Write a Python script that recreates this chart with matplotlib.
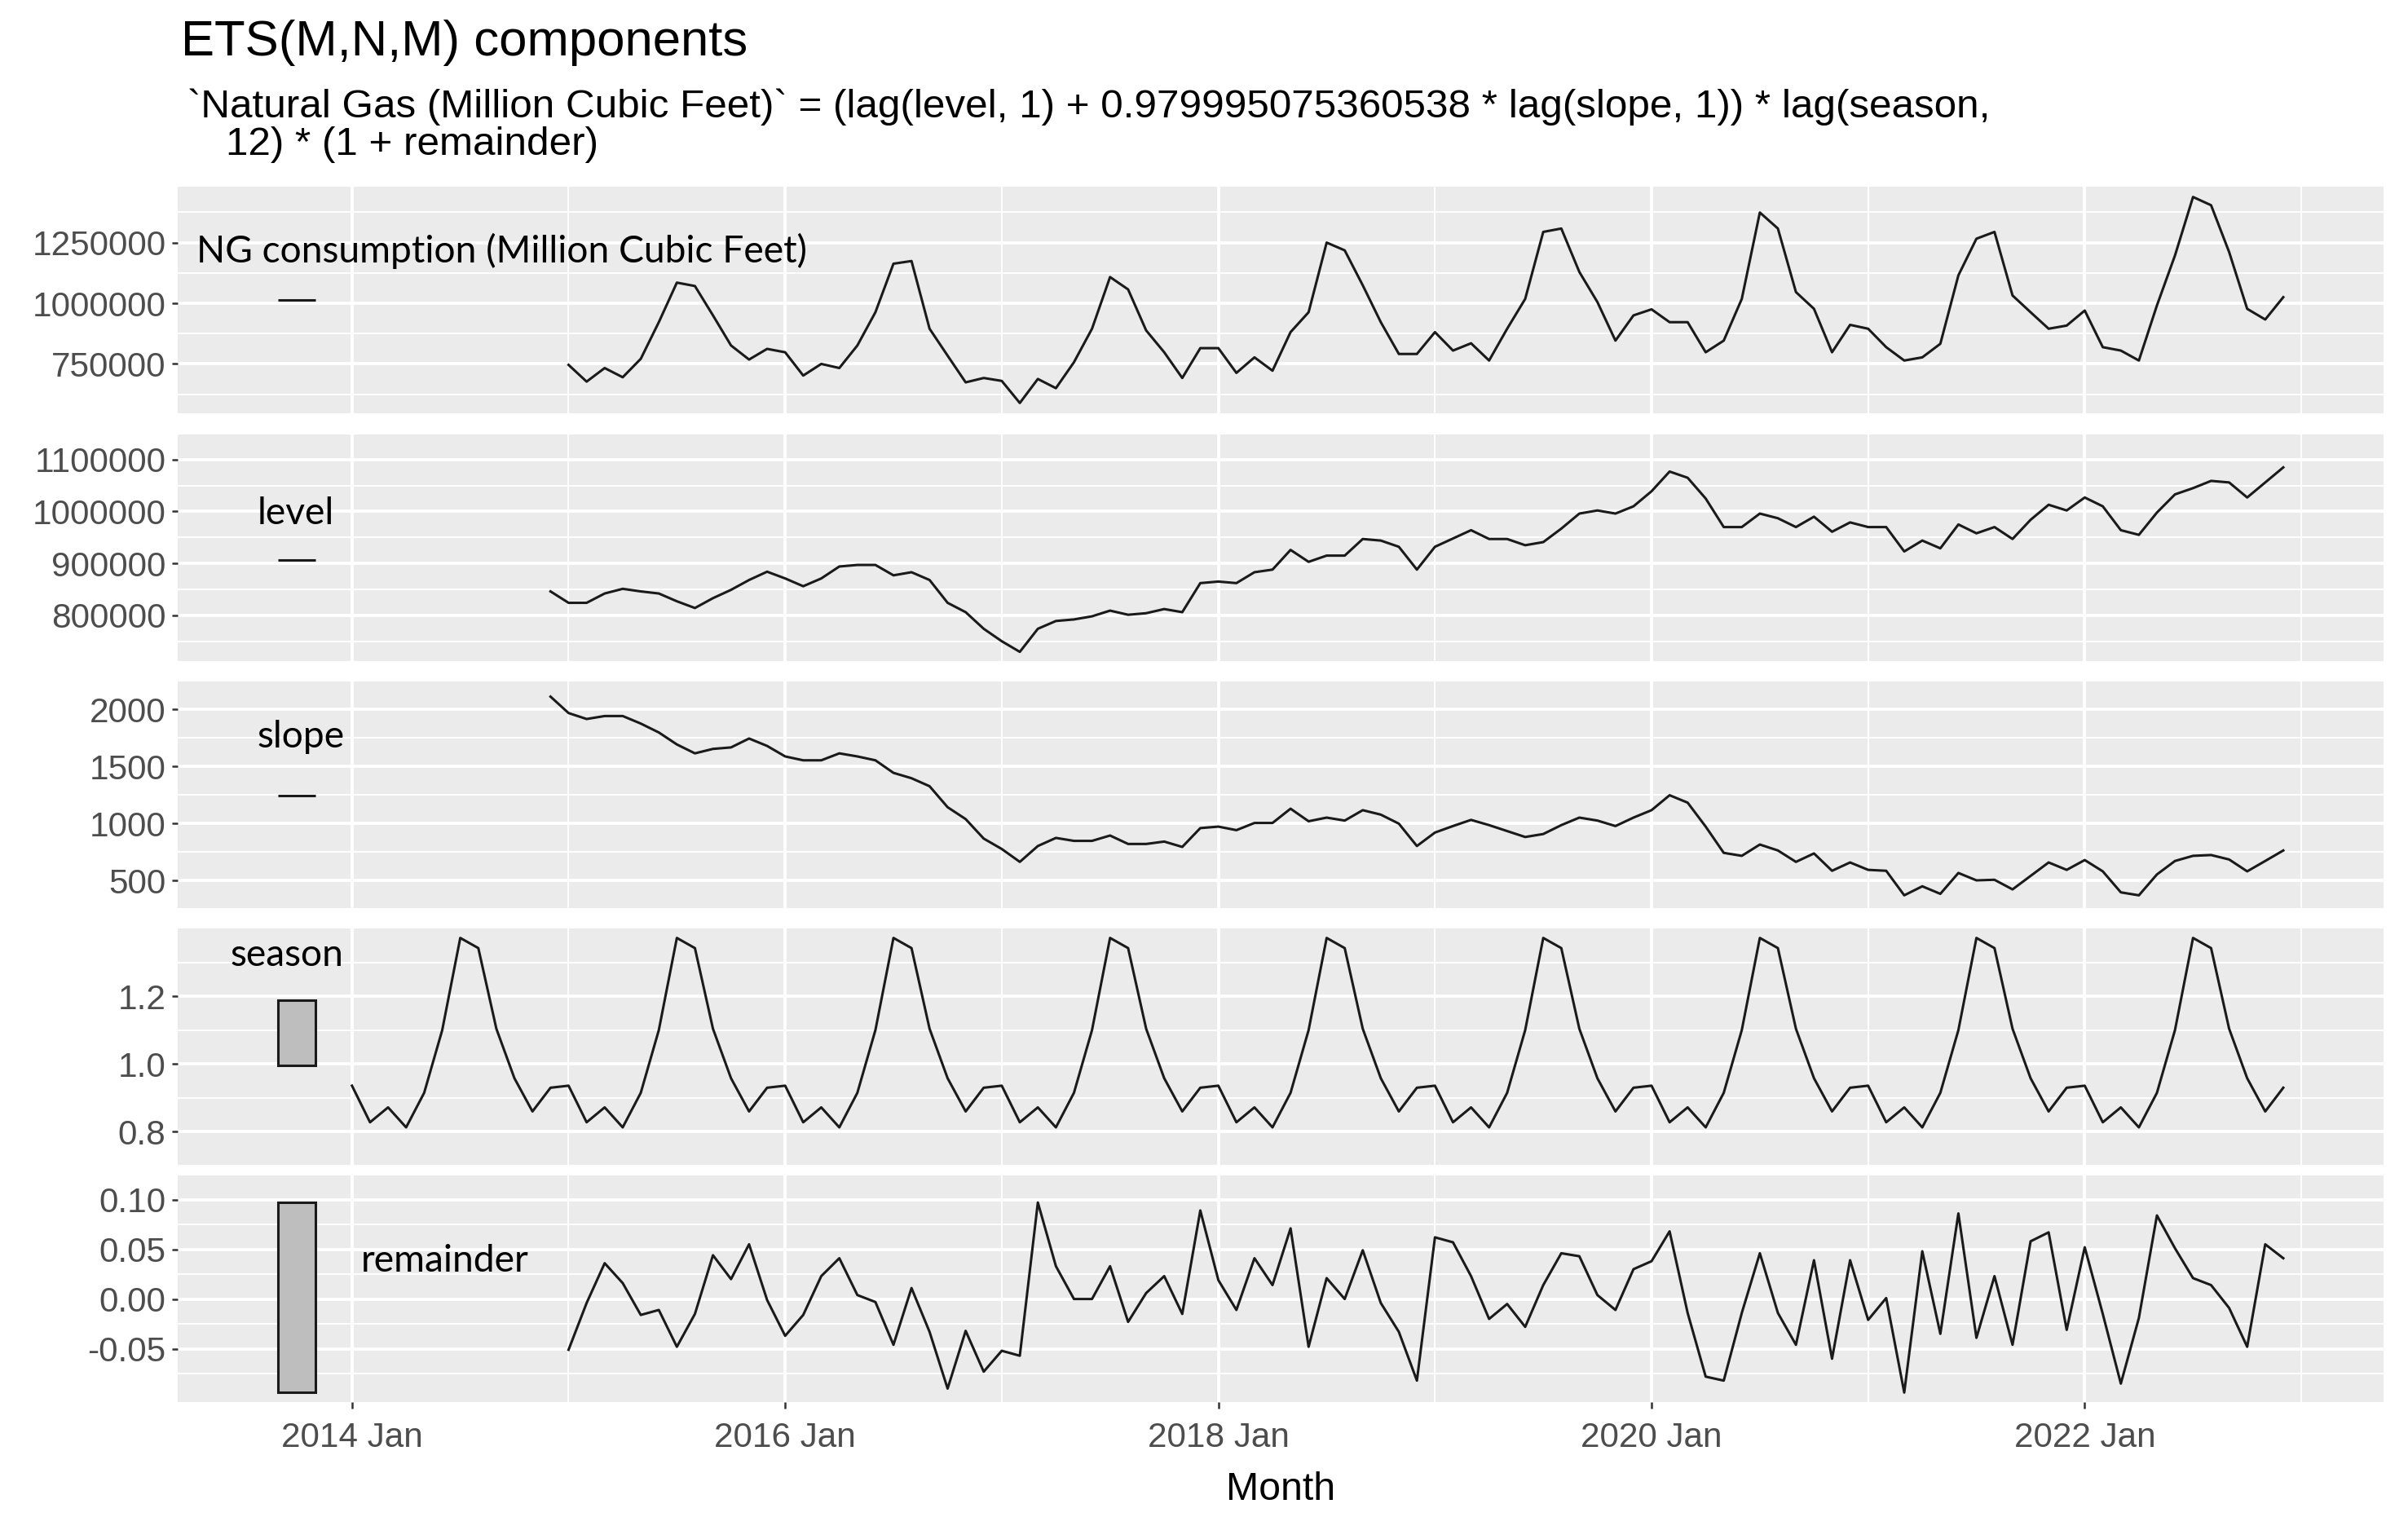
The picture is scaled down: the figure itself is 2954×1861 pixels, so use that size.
import matplotlib.pyplot as plt
from matplotlib.patches import Rectangle

plt.rcParams['font.family'] = ['Liberation Sans', 'DejaVu Sans']
plt.rcParams['axes.unicode_minus'] = False

# x is counted in months from 2014 Jan
# observed and remainder: 2015 Jan .. 2022 Dec
# level and slope: 2014 Dec .. 2022 Dec (initial state included)
# season: 2014 Jan .. 2022 Dec (12 initial states included)
observed = [
    746000, 677000, 733000, 695000, 771000, 922000, 1085000, 1071000, 950000, 826000, 768000, 812000,
    798000, 702000, 750000, 733000, 826000, 963000, 1163000, 1174000, 895000, 784000, 674000, 692000,
    680000, 589000, 688000, 650000, 757000, 895000, 1108000, 1057000, 888000, 798000, 692000, 815000,
    815000, 713000, 777000, 722000, 881000, 963000, 1250000, 1218000, 1074000, 922000, 791000, 791000,
    881000, 805000, 835000, 764000, 895000, 1018000, 1294000, 1308000, 1129000, 1005000, 846000, 950000,
    975000, 922000, 922000, 798000, 846000, 1018000, 1374000, 1308000, 1046000, 977000, 798000, 911000,
    895000, 819000, 764000, 777000, 833000, 1115000, 1266000, 1294000, 1032000, 963000, 895000, 908000,
    970000, 819000, 805000, 764000, 991000, 1197000, 1438000, 1404000, 1211000, 977000, 933000, 1025000,
]
level = [
    846000,
    824000, 824000, 842000, 851000, 846000, 842000, 827000, 814000, 833000, 849000, 868000, 884000,
    871000, 856000, 871000, 894000, 897000, 897000, 877000, 883000, 868000, 824000, 806000, 774000,
    750000, 729500, 774000, 789000, 792000, 798000, 809000, 801000, 804000, 812000, 806000, 862000,
    865000, 862000, 883000, 888000, 926000, 903000, 915000, 915000, 947000, 944000, 932000, 888000,
    932000, 948000, 964000, 947000, 947000, 935000, 941000, 967000, 996000, 1002000, 996000, 1010000,
    1039000, 1077000, 1065000, 1025000, 970000, 970000, 996000, 987000, 970000, 990000, 961000, 979000,
    970000, 970000, 923000, 944000, 929000, 975000, 958000, 970000, 947000, 984000, 1013000, 1002000,
    1027000, 1010000, 964000, 955000, 998000, 1033000, 1045000, 1059000, 1056000, 1027000, 1056000, 1085000,
]
slope = [
    2110,
    1966, 1914, 1940, 1940, 1874, 1796, 1691, 1613, 1652, 1665, 1743, 1678,
    1586, 1552, 1552, 1613, 1586, 1552, 1442, 1395, 1325, 1141, 1037, 866,
    775, 662, 801, 872, 846, 846, 893, 819, 819, 840, 793, 958,
    971, 940, 1003, 1003, 1128, 1018, 1050, 1024, 1115, 1076, 997, 801,
    919, 976, 1030, 984, 932, 880, 906, 984, 1050, 1024, 976, 1050,
    1115, 1246, 1181, 971, 741, 715, 814, 762, 662, 736, 584, 657,
    592, 584, 369, 448, 382, 565, 500, 505, 421, 539, 657, 592,
    678, 579, 395, 369, 552, 670, 715, 722, 683, 579, 670, 762,
]
season = [
    0.936, 0.828, 0.872, 0.813, 0.915, 1.100, 1.372, 1.342, 1.104, 0.958, 0.860, 0.930,
    0.936, 0.828, 0.872, 0.813, 0.915, 1.100, 1.372, 1.342, 1.104, 0.958, 0.860, 0.930,
    0.936, 0.828, 0.872, 0.813, 0.915, 1.100, 1.372, 1.342, 1.104, 0.958, 0.860, 0.930,
    0.936, 0.828, 0.872, 0.813, 0.915, 1.100, 1.372, 1.342, 1.104, 0.958, 0.860, 0.930,
    0.936, 0.828, 0.872, 0.813, 0.915, 1.100, 1.372, 1.342, 1.104, 0.958, 0.860, 0.930,
    0.936, 0.828, 0.872, 0.813, 0.915, 1.100, 1.372, 1.342, 1.104, 0.958, 0.860, 0.930,
    0.936, 0.828, 0.872, 0.813, 0.915, 1.100, 1.372, 1.342, 1.104, 0.958, 0.860, 0.930,
    0.936, 0.828, 0.872, 0.813, 0.915, 1.100, 1.372, 1.342, 1.104, 0.958, 0.860, 0.930,
    0.936, 0.828, 0.872, 0.813, 0.915, 1.100, 1.372, 1.342, 1.104, 0.958, 0.860, 0.930,
]
remainder = [
    -0.051, -0.004, 0.036, 0.016, -0.016, -0.011, -0.048, -0.015, 0.044, 0.020, 0.055, -0.001,
    -0.037, -0.016, 0.023, 0.041, 0.004, -0.003, -0.046, 0.011, -0.033, -0.090, -0.032, -0.073,
    -0.052, -0.057, 0.097, 0.033, 0.000, 0.000, 0.033, -0.023, 0.006, 0.023, -0.015, 0.089,
    0.019, -0.011, 0.041, 0.014, 0.071, -0.048, 0.021, 0.000, 0.049, -0.004, -0.033, -0.082,
    0.062, 0.057, 0.023, -0.020, -0.005, -0.028, 0.014, 0.046, 0.043, 0.004, -0.011, 0.030,
    0.038, 0.068, -0.014, -0.078, -0.082, -0.014, 0.046, -0.014, -0.046, 0.039, -0.060, 0.039,
    -0.021, 0.001, -0.094, 0.048, -0.035, 0.086, -0.039, 0.023, -0.046, 0.058, 0.067, -0.031,
    0.052, -0.015, -0.085, -0.019, 0.084, 0.051, 0.021, 0.014, -0.009, -0.048, 0.055, 0.041,
]

x_major = [0, 24, 48, 72, 96]
x_minor = [12, 36, 60, 84, 108]
x_labels = ['2014 Jan', '2016 Jan', '2018 Jan', '2020 Jan', '2022 Jan']

panels = [
    (observed, 12, [750000, 1000000, 1250000], '{:.0f}', 'NG consumption (Million Cubic Feet)'),
    (level, 11, [800000, 900000, 1000000, 1100000], '{:.0f}', 'level'),
    (slope, 11, [500, 1000, 1500, 2000], '{:.0f}', 'slope'),
    (season, 0, [0.8, 1.0, 1.2], '{:.1f}', 'season'),
    (remainder, 12, [-0.05, 0.00, 0.05, 0.10], '{:.2f}', 'remainder'),
]

W, H = 2954, 1861
fig = plt.figure(figsize=(W / 200, H / 200), dpi=200)

# panel boxes in pixels (top, bottom)
boxes = [(229, 507), (532, 811), (835, 1115), (1139, 1430), (1441, 1720)]
left_px, right_px = 218, 2924

# scale bar: same height (range of the smallest component) in every panel
bar_h = max(remainder) - min(remainder)
bar_x0, bar_w = -4.1, 2.1
x_end = 107
x_pad = 0.05 * (x_end - bar_x0)

for i, (vals, start, yt, fmt, name) in enumerate(panels):
    top, bot = boxes[i]
    ax = fig.add_axes([left_px / W, 1 - bot / H, (right_px - left_px) / W, (bot - top) / H])
    ax.set_facecolor('#EBEBEB')
    for s in ax.spines.values():
        s.set_visible(False)

    xs = list(range(start, start + len(vals)))
    ax.plot(xs, vals, color='#1a1a1a', lw=1.1, zorder=3)

    lo, hi = min(vals), max(vals)
    mid = (lo + hi) / 2
    ax.add_patch(Rectangle((bar_x0, mid - bar_h / 2), bar_w, bar_h,
                           facecolor='#BEBEBE', edgecolor='#1a1a1a', lw=1.1, zorder=3))

    pad = 0.05 * (hi - lo)
    ax.set_ylim(lo - pad, hi + pad)
    ax.set_xlim(bar_x0 - x_pad, x_end + x_pad)

    ax.set_yticks(yt)
    ax.set_yticklabels([fmt.format(v) for v in yt])
    step = yt[1] - yt[0]
    ax.set_yticks([v + step / 2 for v in [yt[0] - step] + yt], minor=True)
    ax.set_xticks(x_major)
    ax.set_xticks(x_minor, minor=True)
    ax.grid(which='major', color='white', lw=1.4)
    ax.grid(which='minor', color='white', lw=0.7)
    ax.set_axisbelow(True)
    ax.tick_params(which='minor', length=0)
    ax.tick_params(axis='y', which='major', length=2.7, width=0.9, color='#333333',
                   labelsize=15.2, labelcolor='#4D4D4D', pad=2.5)
    if i < 4:
        ax.tick_params(axis='x', which='major', length=0, labelbottom=False)
    else:
        ax.set_xticklabels(x_labels)
        ax.tick_params(axis='x', which='major', length=2.7, width=0.9, color='#333333',
                       labelsize=15.2, labelcolor='#4D4D4D', pad=6)

# titles
fig.text(222 / W, 1 - 68 / H, 'ETS(M,N,M) components', fontsize=22.2, va='baseline', ha='left')
fig.text(230 / W, 1 - 144 / H,
         '`Natural Gas (Million Cubic Feet)` = (lag(level, 1) + 0.979995075360538 * lag(slope, 1)) * lag(season,',
         fontsize=17.8, va='baseline', ha='left')
fig.text(277 / W, 1 - 190 / H, '12) * (1 + remainder)', fontsize=17.8, va='baseline', ha='left')
fig.text(1571 / W, 1 - 1828 / H, 'Month', fontsize=17.4, va='center', ha='center')

# component labels pasted over the panels
lab_font = ['Lato', 'DejaVu Sans']
label_pos = [(241, 322, 'left'), (363, 643, 'center'), (369, 917, 'center'),
             (352, 1185, 'center'), (546, 1560, 'center')]
for (px, py, ha), p in zip(label_pos, panels):
    fig.text(px / W, 1 - py / H, p[4], family=lab_font, fontsize=16.6,
             va='baseline', ha=ha, color='black')

fig.savefig('out.png', dpi=200)
